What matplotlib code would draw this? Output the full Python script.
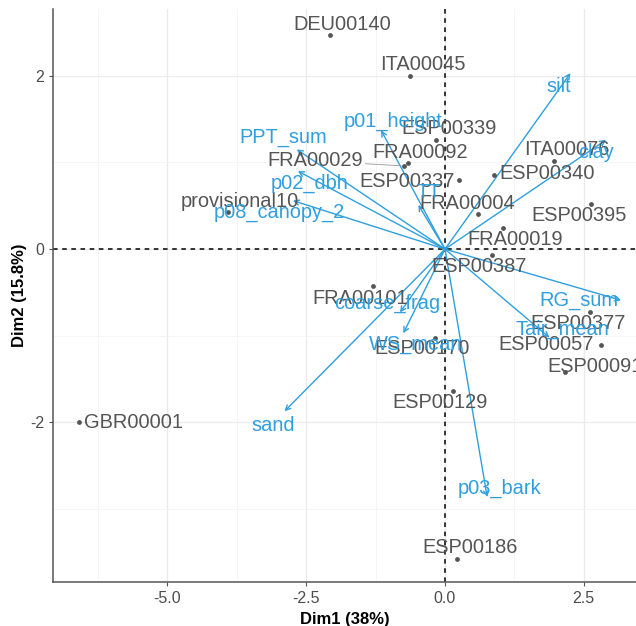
import matplotlib.pyplot as plt
import numpy as np

# individuals (PCA scores)
ind_names = ["DEU00140", "ITA00045", "ESP00339", "FRA00092", "FRA00029", "ESP00337",
             "provisional10", "FRA00004", "ESP00340", "ITA00076", "ESP00395", "FRA00019",
             "ESP00387", "FRA00101", "ESP00170", "ESP00377", "ESP00057", "ESP00091",
             "ESP00129", "GBR00001", "ESP00186"]
ind_x = [-2.07, -0.63, -0.16, -0.66, -0.74, 0.26, -3.90, 0.60, 0.89, 1.96, 2.63, 1.04,
         0.84, -1.30, -0.18, 2.61, 2.81, 2.16, 0.15, -6.59, 0.22]
ind_y = [2.47, 2.00, 1.26, 0.99, 0.96, 0.80, 0.43, 0.40, 0.85, 1.02, 0.52, 0.24,
         -0.07, -0.43, -1.02, -0.72, -1.11, -1.42, -1.64, -2.00, -3.57]

# variables (scaled loadings)
var_names = ["p01_height", "PPT_sum", "p02_dbh", "p08_canopy_2", "TT", "silt", "clay",
             "RG_sum", "Tair_mean", "coarse_frag", "WS_mean", "sand", "p03_bark"]
var_x = [-1.15, -2.67, -2.65, -2.74, -0.48, 2.26, 2.90, 3.17, 1.88, -0.81, -0.75, -2.89, 0.76]
var_y = [1.37, 1.15, 0.90, 0.56, 0.51, 2.03, 1.26, -0.59, -1.02, -0.73, -0.97, -1.87, -2.86]

# label placement (pixel offsets, like ggrepel would give)
ind_off = {"DEU00140": (12, 11), "ITA00045": (13, 11), "ESP00339": (13, 11),
           "FRA00092": (12, 11), "FRA00029": (-89, 5), "ESP00337": (-52, -2),
           "provisional10": (11, 10), "FRA00004": (-11, 11), "ESP00340": (53, 2),
           "ITA00076": (13, 11), "ESP00395": (-12, -11), "FRA00019": (12, -11),
           "ESP00387": (-13, -11), "FRA00101": (-13, -12), "ESP00170": (-13, -11),
           "ESP00377": (-12, -12), "ESP00057": (-55, 1), "ESP00091": (30, 6),
           "ESP00129": (-13, -11), "GBR00001": (54, 0), "ESP00186": (13, 11)}
var_off = {"p01_height": (12, 9), "PPT_sum": (-13, 12), "p02_dbh": (12, -12),
           "p08_canopy_2": (-14, -12), "TT": (10, 12), "silt": (-12, -13),
           "clay": (-10, -13), "RG_sum": (-42, 0), "Tair_mean": (13, 8),
           "coarse_frag": (-13, 9), "WS_mean": (12, -11), "sand": (-11, -14),
           "p03_bark": (12, 9)}

plt.rcParams['font.family'] = ['Liberation Sans', 'DejaVu Sans']
blue = "#2E9FDF"
grey = "#555555"

fig = plt.figure(figsize=(6.36, 6.26), dpi=100)
ax = fig.add_axes([53 / 636, 44 / 626, 1 - 53 / 636, (582 - 9) / 626])
ax.set_xlim(-7.06, 3.44)
ax.set_ylim(-3.84, 2.77)

# grid
ax.set_xticks([-5, -2.5, 0, 2.5])
ax.set_xticklabels(["-5.0", "-2.5", "0.0", "2.5"])
ax.set_yticks([-2, 0, 2])
ax.set_yticklabels(["-2", "0", "2"])
ax.set_xticks([-6.25, -3.75, -1.25, 1.25], minor=True)
ax.set_yticks([-3, -1, 1], minor=True)
ax.grid(which="major", color="#EBEBEB", lw=0.9)
ax.grid(which="minor", color="#F4F4F4", lw=0.6)
ax.set_axisbelow(True)
for s in ["top", "right"]:
    ax.spines[s].set_visible(False)
for s in ["left", "bottom"]:
    ax.spines[s].set_color("#555555")
    ax.spines[s].set_linewidth(1.1)
ax.tick_params(which="major", length=3, color="#555555", labelsize=11.5, labelcolor="#4D4D4D")
ax.tick_params(which="minor", length=0)

ax.axhline(0, color="black", ls=(0, (3, 3)), lw=1.1, zorder=1)
ax.axvline(0, color="black", ls=(0, (3, 3)), lw=1.1, zorder=1)

# individuals
ax.scatter(ind_x, ind_y, s=12, color=grey, zorder=3, linewidths=0)
for n, x, y in zip(ind_names, ind_x, ind_y):
    dx, dy = ind_off[n]
    if n == "FRA00029":
        ax.annotate(n, (x, y), xytext=(dx, dy), textcoords="offset pixels",
                    ha="center", va="center", fontsize=14.4, color=grey, zorder=4,
                    arrowprops=dict(arrowstyle="-", color="#999999", lw=0.6, shrinkA=0, shrinkB=2))
    else:
        ax.annotate(n, (x, y), xytext=(dx, dy), textcoords="offset pixels",
                    ha="center", va="center", fontsize=14.4, color=grey, zorder=4)

# variables
for n, x, y in zip(var_names, var_x, var_y):
    ax.annotate("", xy=(x, y), xytext=(0, 0),
                arrowprops=dict(arrowstyle="->,head_length=0.35,head_width=0.18",
                                color=blue, lw=1.0, shrinkA=0, shrinkB=0), zorder=2)
    dx, dy = var_off[n]
    ax.annotate(n, (x, y), xytext=(dx, dy), textcoords="offset pixels",
                ha="center", va="center", fontsize=14.4, color=blue, zorder=4)

ax.set_xlabel("Dim1 (38%)", fontsize=12, fontweight="bold", labelpad=4)
ax.set_ylabel("Dim2 (15.8%)", fontsize=12, fontweight="bold", labelpad=2)

fig.savefig("out.png", dpi=100)
